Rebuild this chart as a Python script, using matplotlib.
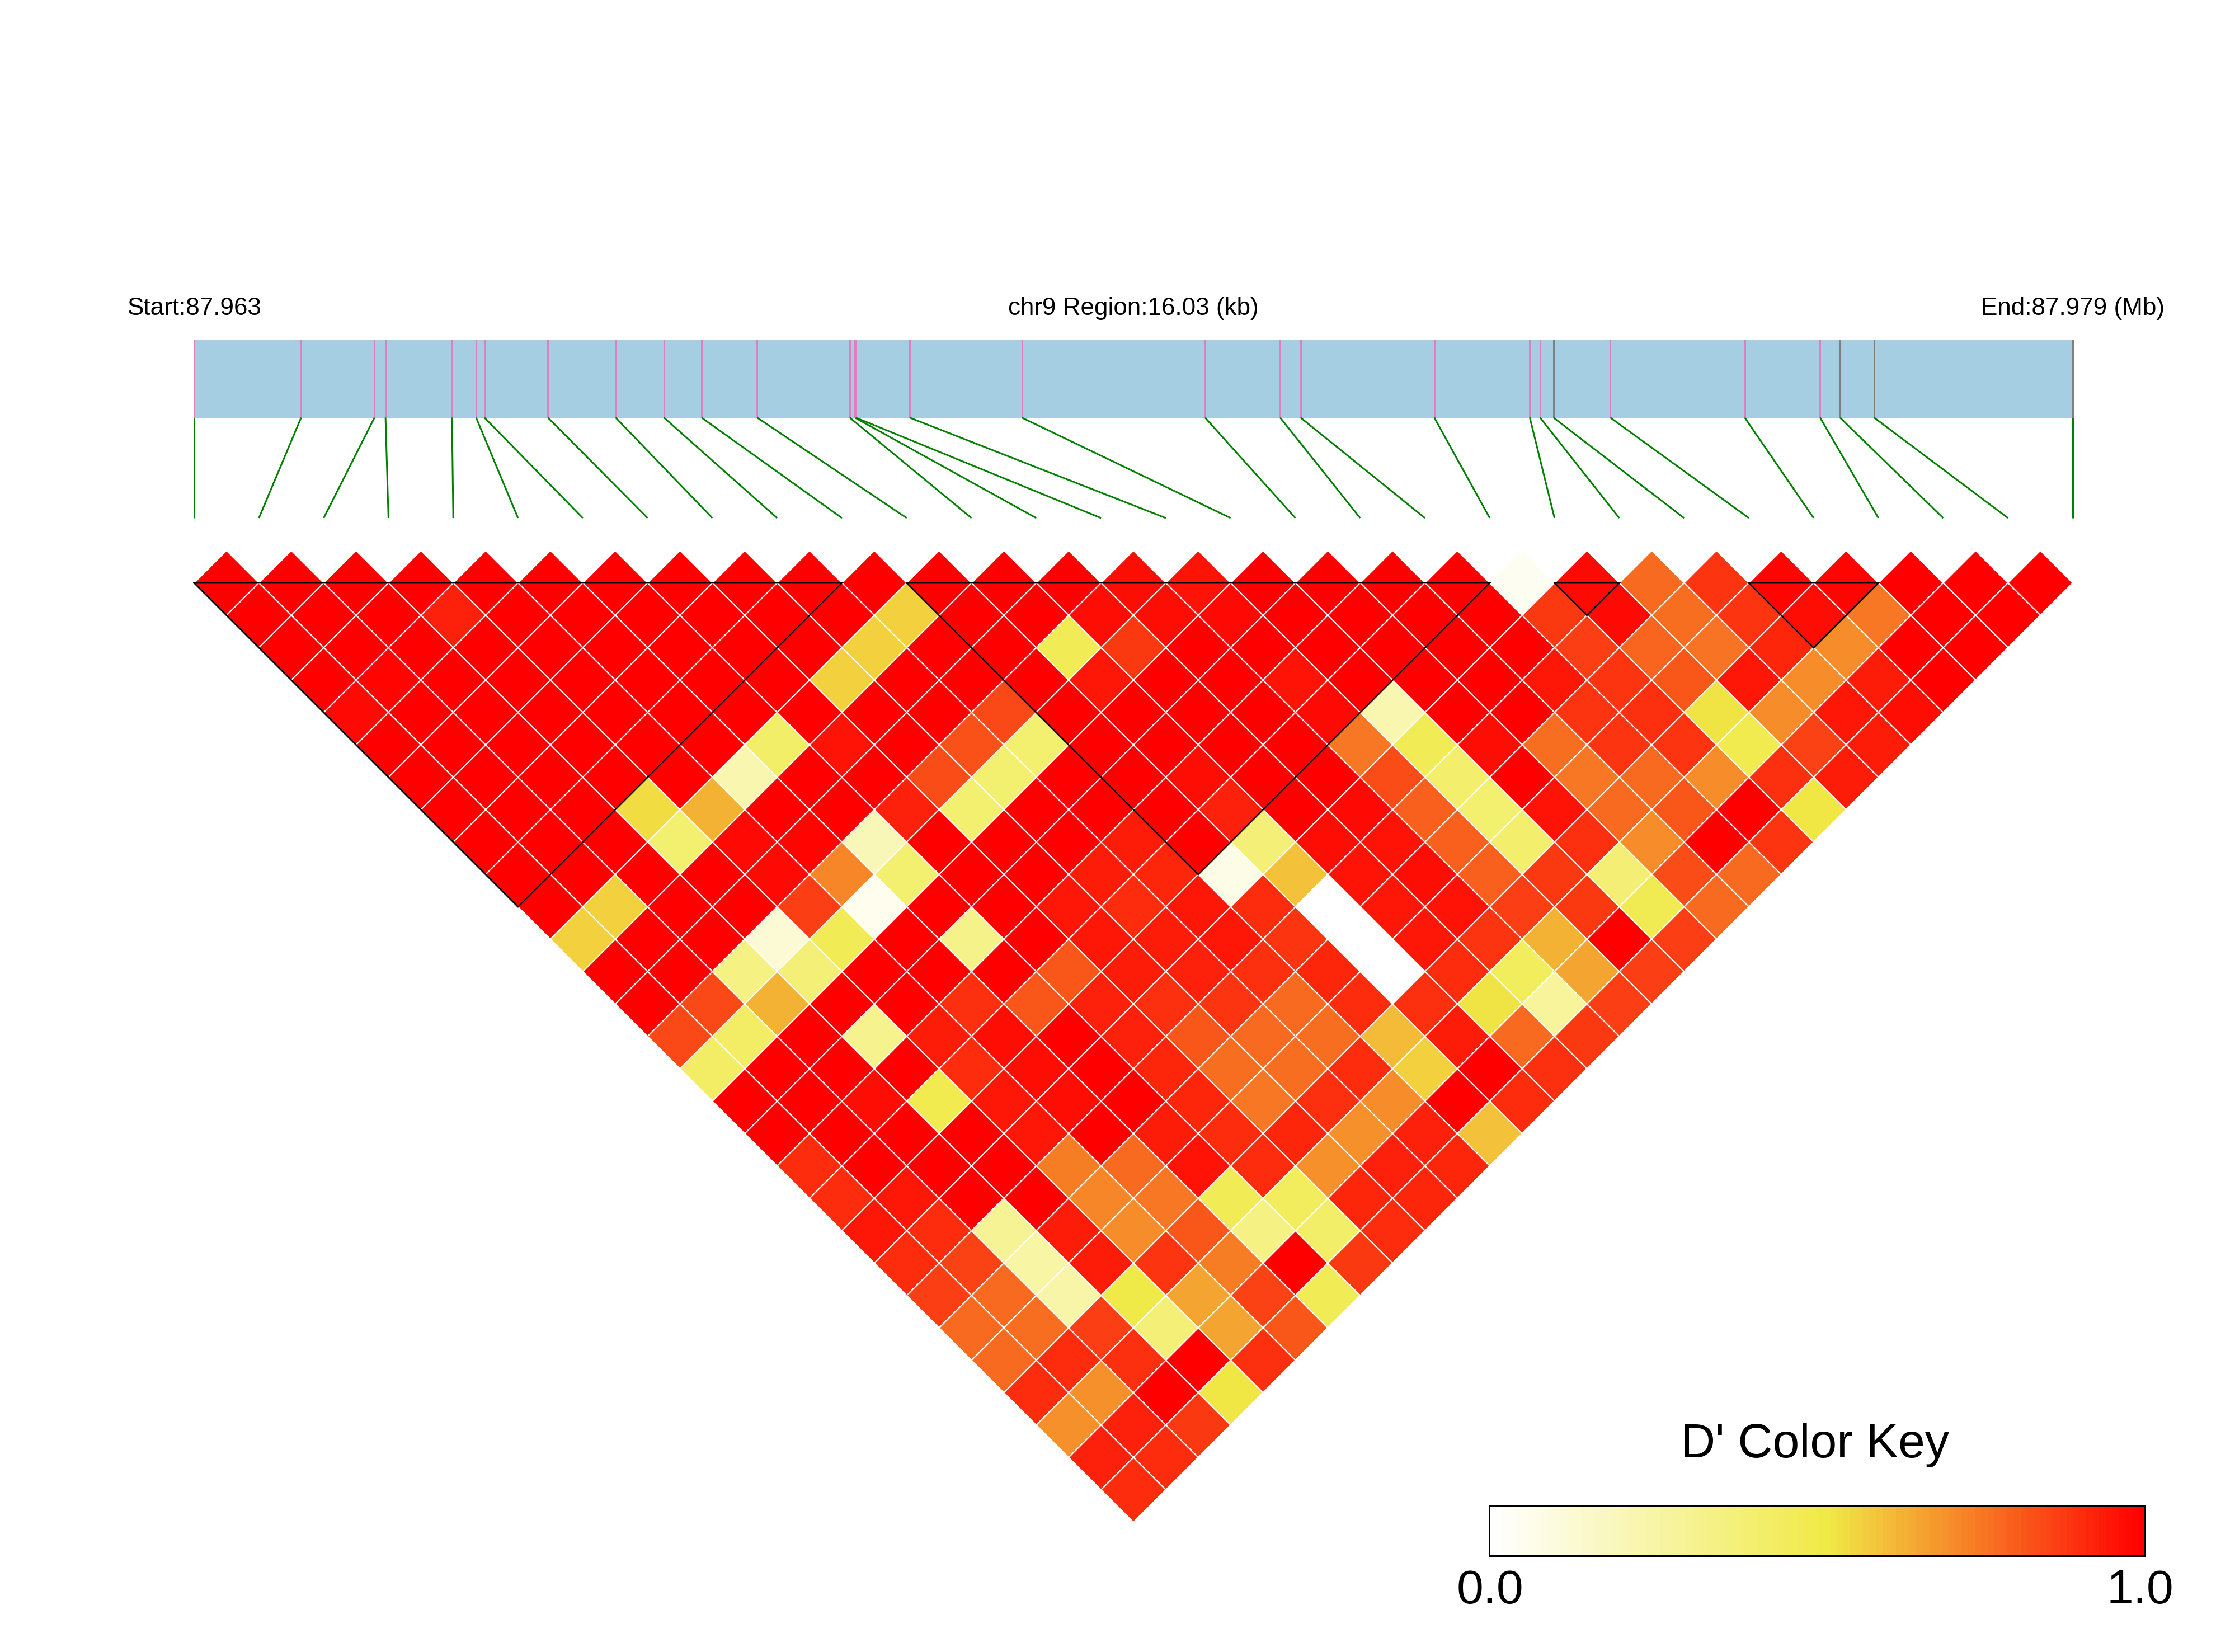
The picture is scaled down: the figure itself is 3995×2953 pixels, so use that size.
import numpy as np
import matplotlib
matplotlib.use('Agg')
import matplotlib.pyplot as plt
from matplotlib.collections import PolyCollection
from matplotlib.colors import LinearSegmentedColormap
from matplotlib.patches import Rectangle

plt.rcParams['font.family'] = ['Liberation Sans', 'DejaVu Sans']

# snp positions inside the region, kb from the start
region_kb = 16.03
snp_kb = [0, 0.913, 1.539, 1.633, 2.200, 2.406, 2.477, 3.019, 3.597, 4.009,
          4.330, 4.804, 5.594, 5.638, 5.645, 6.105, 7.063, 8.626, 9.267, 9.441,
          10.582, 11.397, 11.485, 11.599, 12.084, 13.231, 13.874, 14.044, 14.335, 16.03]
grey_snps = [23, 27, 28, 29]

# LD blocks, first and last snp
blocks = [(0, 10), (11, 20), (21, 22), (24, 26)]

# D' values, one list per distance between snps
d1 = [1,1,1,1,1,1,1,1,1,1,1,1,1,1,.97,.96,1,1,1,1,.04,.98,.78,.89,.99,.99,1,1,1]
d2 = [1,1,1,.93,1,1,1,1,1,1,.57,1,1,.97,.97,.98,1,1,1,1,.88,.98,.77,.89,.97,.75,1,1]
d3 = [1,1,1,1,1,1,1,1,1,.57,1,1,.47,.88,1,1,1,1,1,1,.87,.79,.76,.92,.71,1,1]
d4 = [1,.99,1,1,1,1,1,1,.57,1,1,1,.95,1,1,.96,1,1,1,.95,.89,.82,.95,.71,.94,1]
d5 = [.98,1,1,1,1,1,1,1,1,1,.85,1,1,1,1,.98,.22,1,1,.89,.9,.53,.71,.95,.97]
d6 = [1,1,1,1,1,1,.42,.96,1,.83,.4,1,1,1,1,.75,.47,.97,.77,.89,.89,.49,.86,.94]
d7 = [1,1,1,1,1,.22,1,1,.84,.4,1,1,.97,1,1,.84,.41,1,.75,.78,.71,.9,.94]
d8 = [1,1,1,.54,.63,1,1,.93,.4,1,1,1,.93,1,.98,.8,.4,.96,.78,.82,1,.52]
d9 = [1,1,1,.4,.98,.99,.2,1,1,1,.94,1,.38,.97,.96,.8,.41,.9,.71,1,.89]
d10 = [1,1,1,1,.98,.72,.4,1,1,.94,.92,.07,.6,.96,.97,.8,.88,.39,.84,.78]
d11 = [1,.57,1,1,.87,.05,1,1,.95,.91,.95,.91,0,.95,.96,.87,.88,.48,.78]
d12 = [.57,1,1,.12,.47,1,.33,1,.95,.94,.95,.89,0,.95,.89,.63,1,.87]
d13 = [1,1,.35,.38,1,1,1,.82,.94,.93,.9,.92,0,.91,.45,.66,.87]
d14 = [1,.85,.63,1,1,.9,.82,.93,.9,.89,.78,.91,.9,.53,.28,.87]
d15 = [.85,.43,1,.32,.94,.97,1,.93,.82,.78,.77,.61,.94,.78,.88]
d16 = [.43,1,1,1,.91,.97,1,.92,.77,.77,.91,.57,1,.9]
d17 = [1,1,.97,.49,.95,.97,1,.92,.75,.9,.71,1,.91]
d18 = [1,1,1,1,.95,1,.94,.91,.92,.7,.93,.6]
d19 = [.91,1,1,1,.74,.78,.96,.91,.7,.93,.92]
d20 = [.91,.95,1,1,.72,.75,.47,.45,.92,.92]
d21 = [.95,.91,.3,.94,.71,.82,.35,.42,.91]
d22 = [.91,.86,.25,.94,.89,.74,1,.88]
d23 = [.87,.78,.24,.51,.66,.86,.47]
d24 = [.78,.77,.87,.38,.66,.82]
d25 = [.78,.91,.9,1,.9]
d26 = [.91,.7,1,.52]
d27 = [.7,.93,.88]
d28 = [.93,.91]
d29 = [.91]
ld_rows = [d1, d2, d3, d4, d5, d6, d7, d8, d9, d10, d11, d12, d13, d14, d15,
           d16, d17, d18, d19, d20, d21, d22, d23, d24, d25, d26, d27, d28, d29]

key_title = "D' Color Key"
key_min = '0.0'
key_max = '1.0'
left_label = 'Start:87.963'
mid_label = 'chr9 Region:16.03 (kb)'
right_label = 'End:87.979 (Mb)'

W, H, DPI = 3995, 2953, 300
px = 72 / DPI  # one image pixel in points

# layout in image pixels
x0, x1 = 347, 3705
y0 = 1042
half = (x1 - x0) / (2 * (len(snp_kb) - 1))

cmap = LinearSegmentedColormap.from_list(
    'dprime', [(0, '#ffffff'), (0.515, '#f0ea46'), (1, '#ff0000')])

fig = plt.figure(figsize=(W / DPI, H / DPI), dpi=DPI)
ax = fig.add_axes([0, 0, 1, 1])
ax.set_xlim(0, W)
ax.set_ylim(H, 0)
ax.axis('off')

# heatmap diamonds
polys = []
vals = []
for r, row in enumerate(ld_rows):
    for k, v in enumerate(row):
        cx = x0 + half * (1 + 2 * k + r)
        cy = y0 + half * r
        polys.append([(cx - half, cy), (cx, cy - half), (cx + half, cy), (cx, cy + half)])
        vals.append(v)
cells = PolyCollection(polys, array=np.array(vals), cmap=cmap, clim=(0, 1),
                       edgecolors='white', linewidths=2.2 * px)
ax.add_collection(cells)

# block outlines
for a, b in blocks:
    xa = x0 + 2 * a * half
    xb = x0 + 2 * b * half
    tri = [(xa, y0), (xb, y0), ((xa + xb) / 2, y0 + (b - a) * half), (xa, y0)]
    ax.plot([p[0] for p in tri], [p[1] for p in tri], color='black', lw=2.8 * px,
            solid_joinstyle='miter', zorder=3)

# gene bar with snp ticks
bar_top, bar_bottom, link_bottom = 607.5, 746.5, 926
ax.add_patch(Rectangle((x0, bar_top), x1 - x0, bar_bottom - bar_top, fc='#a6cee3', ec='none'))
for i, kb in enumerate(snp_kb):
    x = x0 + kb / region_kb * (x1 - x0)
    col = '#808080' if i in grey_snps else '#e07fc0'
    ax.plot([x, x], [bar_top - 1, bar_bottom], color=col, lw=3 * px, solid_capstyle='butt')
    ax.plot([x, x0 + 2 * i * half], [bar_bottom, link_bottom], color='#008000', lw=3 * px,
            solid_capstyle='butt')

ax.text(x0, 563, left_label, ha='center', va='baseline', fontsize=44 * px)
ax.text((x0 + x1) / 2, 563, mid_label, ha='center', va='baseline', fontsize=44 * px)
ax.text(x1, 563, right_label, ha='center', va='baseline', fontsize=44 * px)

# colour key
kx0, kx1, ky0, ky1 = 2662, 3834.5, 2691, 2781
key_vals = np.linspace(0, 1, 100).reshape(1, -1)
ax.pcolormesh(np.linspace(kx0, kx1, 101), [ky0, ky1], key_vals, cmap=cmap, vmin=0, vmax=1)
ax.add_patch(Rectangle((kx0, ky0), kx1 - kx0, ky1 - ky0, fc='none', ec='black', lw=3 * px))
ax.text((kx0 + kx1) / 2 - 4, 2605, key_title, ha='center', va='baseline', fontsize=86 * px)
ax.text(kx0 + 2, 2866, key_min, ha='center', va='baseline', fontsize=86 * px)
ax.text(kx1 - 9, 2866, key_max, ha='center', va='baseline', fontsize=86 * px)

fig.savefig('out.png', dpi=DPI)
